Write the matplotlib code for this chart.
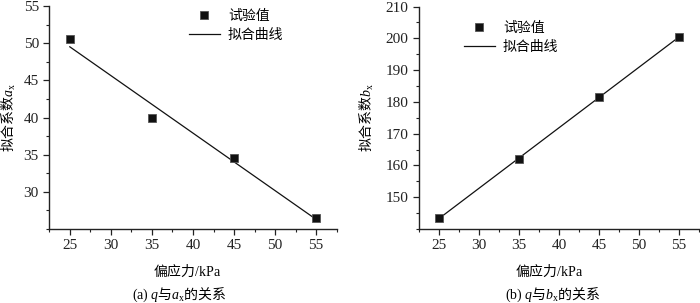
import numpy as np
import matplotlib
matplotlib.use("Agg")
import matplotlib.pyplot as plt
from matplotlib.ticker import MultipleLocator

# ==========================================
# DATA
# ==========================================

q = [25, 35, 45, 55]
ax_vals = [50.5, 40.0, 34.6, 26.5]
bx_vals = [143.5, 162.0, 181.5, 200.5]

legend_labels = ["试验值", "拟合曲线"]

# ==========================================
# STYLE
# ==========================================

plt.rcParams["font.family"] = ["Liberation Serif", "Noto Sans CJK SC"]
plt.rcParams["mathtext.fontset"] = "custom"
plt.rcParams["mathtext.rm"] = "Liberation Serif"
plt.rcParams["mathtext.it"] = "Liberation Serif:italic"
plt.rcParams["font.size"] = 11

cjk = "Noto Sans CJK SC"

fig = plt.figure(figsize=(7.0, 3.03), dpi=100)

ax1 = fig.add_axes([0.0704, 0.2442, 0.4106, 0.736])
ax2 = fig.add_axes([0.5986, 0.2442, 0.400, 0.734])


def style_axis(ax, ylim, yminor, yticks):
    ax.set_xlim(22.5, 57.5)
    ax.set_ylim(*ylim)
    ax.set_xticks([25, 30, 35, 40, 45, 50, 55])
    ax.set_yticks(yticks)
    ax.xaxis.set_minor_locator(MultipleLocator(2.5))
    ax.yaxis.set_minor_locator(MultipleLocator(yminor))
    for s in ["top", "right"]:
        ax.spines[s].set_visible(False)
    for s in ["left", "bottom"]:
        ax.spines[s].set_linewidth(1.0)
        ax.spines[s].set_color("#222222")
    ax.tick_params(which="major", direction="out", length=4, width=0.9,
                   labelsize=11, colors="#222222")
    ax.tick_params(which="minor", direction="out", length=2.2, width=0.8,
                   colors="#222222")


def draw(ax, y):
    k, b = np.polyfit(q, y, 1)
    xx = np.array([q[0], q[-1]])
    ax.plot(q, y, "s", color="#111111", markersize=5.5,
            markeredgecolor="#555555", markeredgewidth=0.6,
            linestyle="none", label=legend_labels[0], zorder=3)
    ax.plot(xx, k * xx + b, color="#111111", linewidth=0.9,
            label=legend_labels[1], zorder=2)


# ==========================================
# (a) q - ax
# ==========================================

draw(ax1, ax_vals)
style_axis(ax1, (25, 55), 2.5, [30, 35, 40, 45, 50, 55])
ax1.set_ylabel(r"拟合系数$a_\mathrm{x}$", family=cjk, fontsize=10)
ax1.yaxis.set_label_coords(-0.108, 0.5)
ax1.set_xlabel(r"偏应力$\mathrm{/kPa}$", family=cjk, fontsize=10)
ax1.xaxis.set_label_coords(0.48, -0.15)
ax1.legend(loc="upper left", bbox_to_anchor=(0.486, 0.985), frameon=False,
           prop={"family": cjk, "size": 10}, handlelength=2.2,
           handletextpad=0.6, borderpad=0, borderaxespad=0,
           labelspacing=0.35)

# ==========================================
# (b) q - bx
# ==========================================

draw(ax2, bx_vals)
style_axis(ax2, (140, 210), 5, [150, 160, 170, 180, 190, 200, 210])
ax2.set_ylabel(r"拟合系数$b_\mathrm{x}$", family=cjk, fontsize=10)
ax2.yaxis.set_label_coords(-0.154, 0.5)
ax2.set_xlabel(r"偏应力$\mathrm{/kPa}$", family=cjk, fontsize=10)
ax2.xaxis.set_label_coords(0.464, -0.15)
ax2.legend(loc="upper left", bbox_to_anchor=(0.161, 0.935), frameon=False,
           prop={"family": cjk, "size": 10}, handlelength=2.2,
           handletextpad=0.6, borderpad=0, borderaxespad=0,
           labelspacing=0.35)

# ==========================================
# CAPTIONS
# ==========================================

fig.text(179 / 700, 0.026, r"$\mathrm{(a)}\ q$与$a_\mathrm{x}$的关系",
         family=cjk, fontsize=10, ha="center", va="center")
fig.text(553 / 700, 0.026, r"$\mathrm{(b)}\ q$与$b_\mathrm{x}$的关系",
         family=cjk, fontsize=10, ha="center", va="center")

fig.savefig("out.png", dpi=100)
